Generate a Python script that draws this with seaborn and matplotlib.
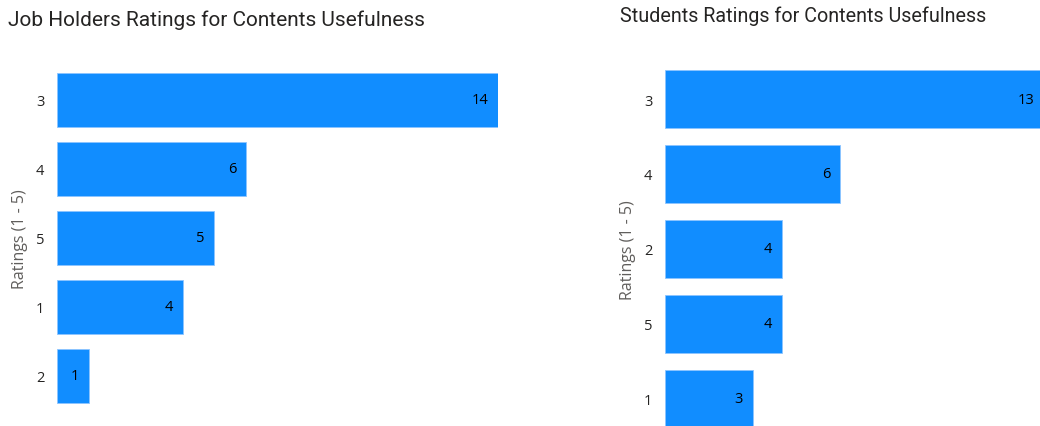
import matplotlib
matplotlib.use("Agg")
import matplotlib.pyplot as plt
import seaborn as sns
import pandas as pd

# Ratings data for both respondent groups (sorted by count, as displayed)
job_ratings = ["3", "4", "5", "1", "2"]
job_counts = [14, 6, 5, 4, 1]

student_ratings = ["3", "4", "2", "5", "1"]
student_counts = [13, 6, 4, 4, 3]

BAR_COLOR = "#118DFF"
TITLE_COLOR = "#252423"
LABEL_COLOR = "#605E5C"

sns.set_theme(style="white")
plt.rcParams["font.family"] = ["Open Sans", "DejaVu Sans"]

W, H = 1040, 427
fig = plt.figure(figsize=(W / 100, H / 100), dpi=100)


def px_axes(x0, x1, top, bottom):
    """Create axes from pixel coordinates (top-left origin)."""
    return fig.add_axes([x0 / W, (H - bottom) / H, (x1 - x0) / W, (bottom - top) / H])


def draw_panel(ax, cats, vals, xmax, bar_width):
    df = pd.DataFrame({"Rating": cats, "Count": vals})
    sns.barplot(data=df, x="Count", y="Rating", order=cats, orient="h",
                color=BAR_COLOR, saturation=1, width=bar_width, ax=ax,
                edgecolor="#8cc4ff", linewidth=0.6)
    ax.set_xlim(0, xmax)
    ax.set_ylim(len(cats) - 0.5, -0.5)
    for spine in ax.spines.values():
        spine.set_visible(False)
    ax.set_xticks([])
    ax.set_xlabel("")
    ax.set_ylabel("Ratings (1 - 5)", fontsize=11.5, color=LABEL_COLOR, labelpad=6)
    ax.tick_params(axis="y", length=0, pad=9, labelsize=10.5, labelcolor="#252423")
    for i, v in enumerate(vals):
        ax.annotate(str(v), xy=(v, i), xytext=(-7, 0), textcoords="offset points",
                    ha="right", va="center", fontsize=10.5, color="#000000",
                    fontweight="medium", annotation_clip=False)


# Left panel: job holders
ax1 = px_axes(57, 498, 66.5, 411.5)
draw_panel(ax1, job_ratings, job_counts, 14, 0.77)

# Right panel: students (scale extends past the right border)
ax2 = px_axes(665, 1040, 62.5, 437.5)
draw_panel(ax2, student_ratings, student_counts, 375 / (175 / 6), 0.773)

title_font = ["Roboto", "DejaVu Sans"]
fig.text(8 / W, 1 - 20 / H, "Job Holders Ratings for Contents Usefulness",
         fontsize=15, family=title_font, color=TITLE_COLOR, ha="left", va="center")
fig.text(620 / W, 1 - 16 / H, "Students Ratings for Contents Usefulness",
         fontsize=14.2, family=title_font, color=TITLE_COLOR, ha="left", va="center")

fig.savefig("out.png", dpi=100)
